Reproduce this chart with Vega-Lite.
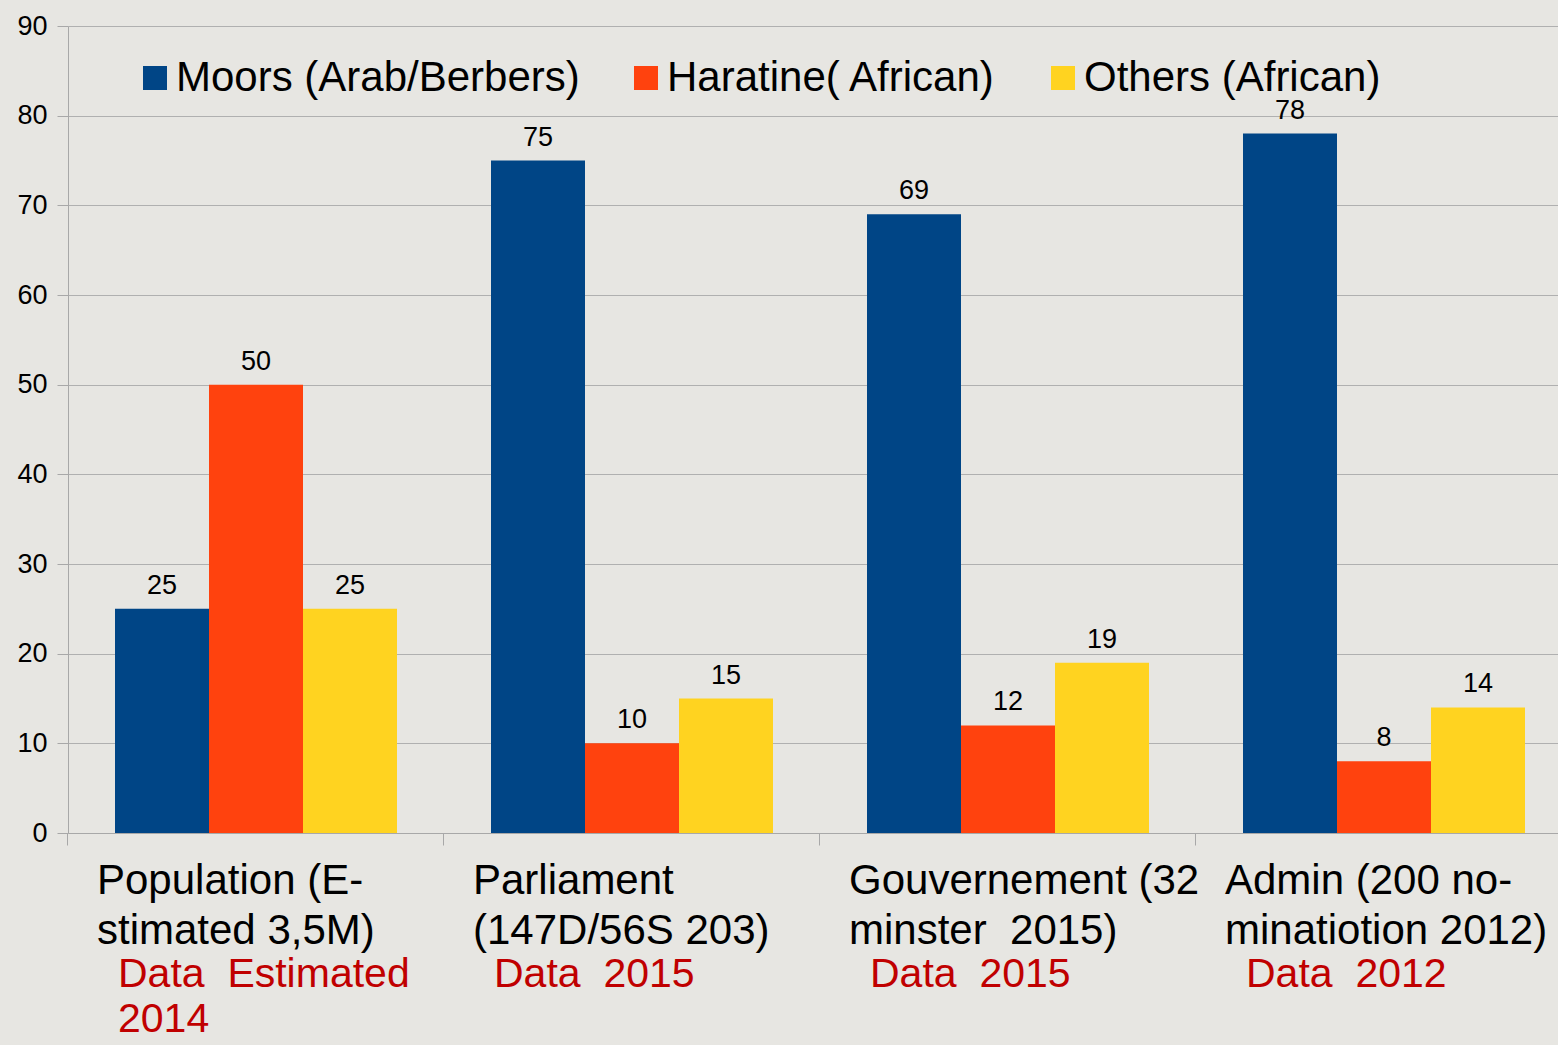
{
  "$schema": "https://vega.github.io/schema/vega-lite/v6.json",
  "autosize": {"type": "none"},
  "padding": {"left": 68, "top": 26, "right": 0, "bottom": 212},
  "width": 1490,
  "height": 807,
  "background": "#e7e6e2",
  "config": {
    "font": "Liberation Sans",
    "view": {"stroke": null}
  },
  "data": {
    "values": [
      {"category": "Population", "group": "Moors (Arab/Berbers)", "value": 25},
      {"category": "Population", "group": "Haratine( African)", "value": 50},
      {"category": "Population", "group": "Others (African)", "value": 25},
      {"category": "Parliament", "group": "Moors (Arab/Berbers)", "value": 75},
      {"category": "Parliament", "group": "Haratine( African)", "value": 10},
      {"category": "Parliament", "group": "Others (African)", "value": 15},
      {"category": "Gouvernement", "group": "Moors (Arab/Berbers)", "value": 69},
      {"category": "Gouvernement", "group": "Haratine( African)", "value": 12},
      {"category": "Gouvernement", "group": "Others (African)", "value": 19},
      {"category": "Admin", "group": "Moors (Arab/Berbers)", "value": 78},
      {"category": "Admin", "group": "Haratine( African)", "value": 8},
      {"category": "Admin", "group": "Others (African)", "value": 14}
    ]
  },
  "resolve": {"axis": {"x": "independent"}},
  "layer": [
    {
      "mark": {"type": "bar"},
      "encoding": {
        "x": {
          "field": "category", "type": "nominal",
          "sort": ["Population", "Parliament", "Gouvernement", "Admin"],
          "scale": {"paddingInner": 0.25, "paddingOuter": 0.125, "range": [0, 1504]},
          "axis": {
            "orient": "bottom",
            "title": null,
            "labelAngle": 0,
            "labelFontSize": 42,
            "labelColor": "#000000",
            "labelAlign": "left",
            "labelBaseline": "top",
            "labelOffset": -159,
            "labelLineHeight": 50,
            "labelPadding": 15,
            "labelLimit": 0,
            "bandPosition": -0.1667,
            "tickSize": 12,
            "tickColor": "#a8a8a8",
            "domainColor": "#a8a8a8",
            "labelExpr": "datum.value == 'Population' ? ['Population (E-', 'stimated 3,5M)'] : datum.value == 'Parliament' ? ['Parliament', '(147D/56S 203)'] : datum.value == 'Gouvernement' ? ['Gouvernement (32', 'minster\u00a0 2015)'] : ['Admin (200 no-', 'minatiotion 2012)']"
          }
        },
        "xOffset": {
          "field": "group", "type": "nominal",
          "sort": ["Moors (Arab/Berbers)", "Haratine( African)", "Others (African)"],
          "scale": {"paddingInner": 0, "paddingOuter": 0}
        },
        "y": {
          "field": "value", "type": "quantitative",
          "scale": {"domain": [0, 90], "nice": false},
          "axis": {
            "title": null,
            "values": [0, 10, 20, 30, 40, 50, 60, 70, 80, 90],
            "labelFontSize": 27,
            "labelColor": "#000000",
            "labelPadding": 10,
            "tickSize": 11,
            "tickColor": "#a8a8a8",
            "domainColor": "#a8a8a8",
            "gridColor": "#b0b0b0",
            "gridOpacity": 1
          }
        },
        "color": {
          "field": "group", "type": "nominal",
          "scale": {
            "domain": ["Moors (Arab/Berbers)", "Haratine( African)", "Others (African)"],
            "range": ["#004586", "#ff420e", "#ffd320"]
          },
          "legend": {
            "title": null,
            "orient": "none",
            "direction": "horizontal",
            "legendX": 66,
            "legendY": 31,
            "padding": 0,
            "symbolType": "square",
            "symbolSize": 576,
            "symbolStrokeWidth": 0,
            "symbolOpacity": 1,
            "labelFontSize": 42,
            "labelColor": "#000000",
            "labelOffset": 0,
            "labelLimit": 0,
            "columnPadding": 45
          }
        }
      }
    },
    {
      "mark": {"type": "text", "fontSize": 27, "color": "#000000", "baseline": "alphabetic", "dy": -15},
      "encoding": {
        "x": {
          "field": "category", "type": "nominal",
          "sort": ["Population", "Parliament", "Gouvernement", "Admin"],
          "axis": {
            "orient": "bottom",
            "title": null,
            "domain": false,
            "ticks": false,
            "grid": false,
            "labelAngle": 0,
            "labelFontSize": 41,
            "labelColor": "#c00000",
            "labelAlign": "left",
            "labelBaseline": "top",
            "labelOffset": -138,
            "labelLineHeight": 45,
            "labelPadding": 121,
            "labelLimit": 0,
            "labelExpr": "datum.value == 'Population' ? ['Data\u00a0 Estimated', '2014'] : datum.value == 'Parliament' ? 'Data\u00a0 2015' : datum.value == 'Gouvernement' ? 'Data\u00a0 2015' : 'Data\u00a0 2012'"
          }
        },
        "xOffset": {
          "field": "group", "type": "nominal",
          "sort": ["Moors (Arab/Berbers)", "Haratine( African)", "Others (African)"]
        },
        "y": {"field": "value", "type": "quantitative"},
        "text": {"field": "value", "type": "quantitative"}
      }
    }
  ]
}
